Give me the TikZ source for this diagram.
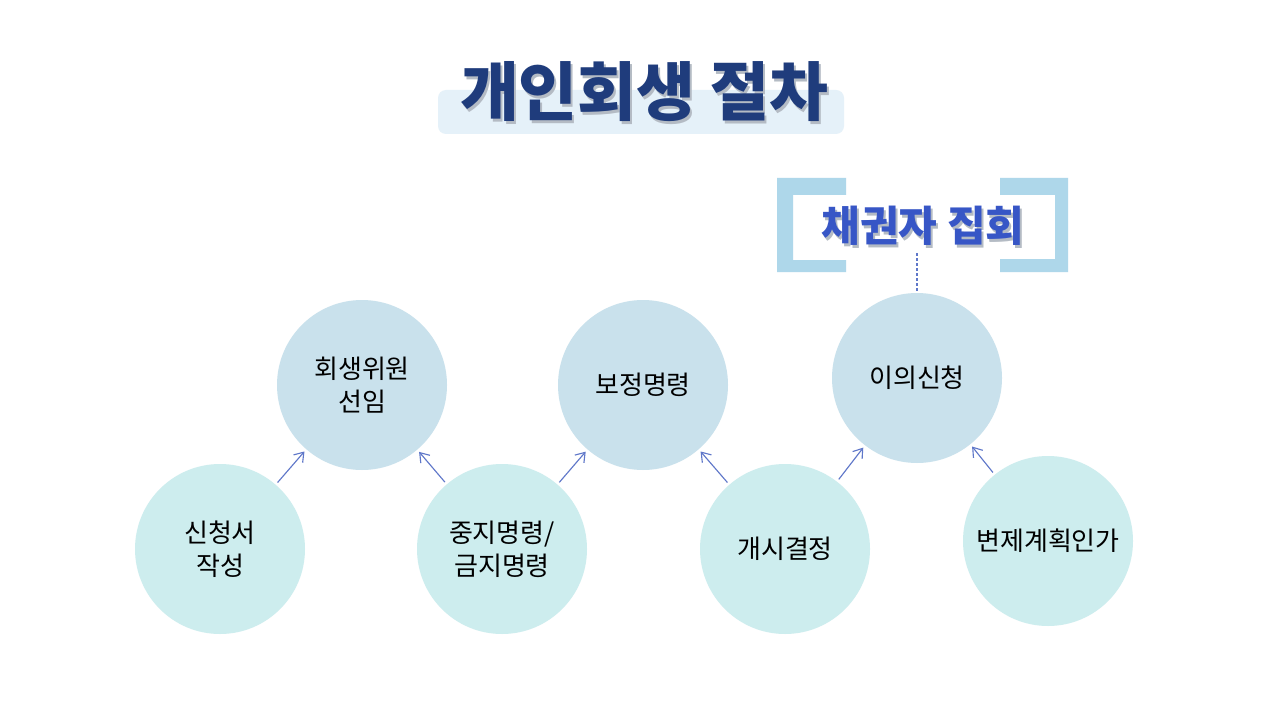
\documentclass[tikz,border=0pt]{standalone}
\usepackage{fontspec}
\setmainfont{Noto Sans CJK KR}
\usetikzlibrary{arrows.meta}

\definecolor{topfill}{HTML}{C9E1EC}
\definecolor{botfill}{HTML}{CDEDEE}
\definecolor{arrowcol}{HTML}{5F77C9}
\definecolor{titlecol}{HTML}{1F3C7C}
\definecolor{meetcol}{HTML}{3756C6}
\definecolor{bracketcol}{HTML}{AED7EA}
\definecolor{bandcol}{HTML}{E5F1F9}
\definecolor{shadecol}{HTML}{B4BBC4}

\tikzset{
  upper/.style={circle, fill=topfill, minimum size=127.5pt, inner sep=0pt,
    align=center, font=\fontsize{19.5}{25}\selectfont},
  lower/.style={upper, fill=botfill},
  flow/.style={-{Straight Barb[length=6.5pt,width=9pt]}, draw=arrowcol, line width=0.85pt,
    shorten <=2pt, shorten >=2pt},
  titletxt/.style={inner sep=0pt, font=\fontsize{48}{52}\selectfont\bfseries},
  meettxt/.style={inner sep=0pt, font=\fontsize{31.5}{34}\selectfont\bfseries}
}

\begin{document}
\begin{tikzpicture}[x=0.75pt,y=-0.75pt]
  \useasboundingbox[fill=white] (0,0) rectangle (1280,720);

  % Title
  \fill[bandcol, rounded corners=6pt] (438,90) rectangle (844,134);
  \node[titletxt, text=shadecol] (title-sh) at (646,95) {개인회생 절차};
  \node[titletxt, text=titlecol] (title) at (644,92) {개인회생 절차};

  % Creditors meeting label
  \fill[bracketcol] (777,178) -- (846,178) -- (846,195) -- (793,195)
    -- (793,260) -- (846,260) -- (846,272) -- (777,272) -- cycle;
  \fill[bracketcol] (1068,178) -- (1000,178) -- (1000,195) -- (1055,195)
    -- (1055,259) -- (1000,259) -- (1000,272) -- (1068,272) -- cycle;
  \node[meettxt, text=shadecol] (meet-sh) at (925,229) {채권자 집회};
  \node[meettxt, text=meetcol] (meet) at (923,226) {채권자 집회};
  \coordinate (meet-end) at (917,253);

  % Define nodes
  \node[lower] (apply) at (220,549) {신청서\\작성};
  \node[upper] (commish) at (362,385) {회생위원\\선임};
  \node[lower] (stay) at (502,549) {중지명령/\\금지명령};
  \node[upper] (amend) at (643,385) {보정명령};
  \node[lower] (open) at (785,549) {개시결정};
  \node[upper] (object) at (917,378) {이의신청};
  \node[lower] (confirm) at (1048,541) {변제계획인가};

  % Connect the nodes
  \draw[flow] (apply) -- (commish);
  \draw[flow] (stay) -- (commish);
  \draw[flow] (stay) -- (amend);
  \draw[flow] (open) -- (amend);
  \draw[flow] (open) -- (object);
  \draw[flow] (confirm) -- (object);
  \draw[arrowcol, line width=2.2pt, dash pattern=on 2.2pt off 1.6pt] (meet-end) -- (object);
\end{tikzpicture}
\end{document}
